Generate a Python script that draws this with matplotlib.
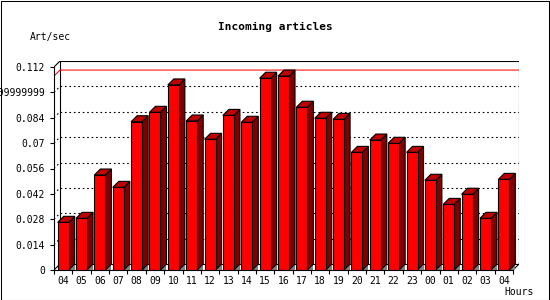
import matplotlib
matplotlib.use('Agg')
import matplotlib.pyplot as plt
from matplotlib.patches import Polygon, Rectangle

hours = ['04', '05', '06', '07', '08', '09', '10', '11', '12', '13', '14', '15',
         '16', '17', '18', '19', '20', '21', '22', '23', '00', '01', '02', '03', '04']
art_per_sec = [0.0263, 0.0285, 0.0524, 0.0456, 0.0818, 0.0870, 0.1021, 0.0822,
               0.0721, 0.0853, 0.0815, 0.1058, 0.1070, 0.0898, 0.0837, 0.0831,
               0.0649, 0.0717, 0.0699, 0.0649, 0.0495, 0.0362, 0.0418, 0.0285,
               0.0500]
ytick_vals = [0, 0.014, 0.028, 0.042, 0.056, 0.07, 0.084, 0.098, 0.112]
ytick_labels = ['0', '0.014', '0.028', '0.042', '0.056', '0.07', '0.084',
                '0.09999999', '0.112']

W, H = 550, 300
slot_px = 18.36          # one bar slot in pixels
ymax = ytick_vals[-1]
px_per_val = 203 / ymax  # pixels per unit value
depth_px = 6
dx = depth_px / slot_px
dy = depth_px / px_per_val
n = len(hours)
bar_w = 0.6

x0_px, y0_px = 54, 270
fig = plt.figure(figsize=(W / 100, H / 100), dpi=100)
fig.patch.set_facecolor('white')
ax = fig.add_axes([x0_px / W, (H - y0_px) / H,
                   (n * slot_px + depth_px) / W, (ymax * px_per_val + depth_px) / H])
ax.set_xlim(0, n + dx)
ax.set_ylim(0, ymax + dy)
ax.patch.set_alpha(0)

mono = 'DejaVu Sans Mono'

# back wall
ax.add_patch(Rectangle((dx, dy), n, ymax, fill=False, ec='black', lw=0.8, zorder=1))
ax.plot([0, dx], [ymax, ymax + dy], color='black', lw=0.8, zorder=1)
ax.plot([n, n + dx], [0, dy], color='black', lw=0.8, zorder=1)
ax.plot([0, dx], [0, dy], color='black', lw=0.8, zorder=1)

# dotted grid on back wall
for t in ytick_vals[1:-1]:
    ax.plot([dx, n + dx], [t + dy, t + dy], color='black', lw=0.8,
            linestyle=(0, (1.5, 2.5)), zorder=1)
    ax.plot([0, dx], [t, t + dy], color='black', lw=0.8,
            linestyle=(0, (1.5, 2.5)), zorder=1)

# max line
vmax = max(art_per_sec)
ax.plot([0, dx, n + dx], [vmax, vmax + dy, vmax + dy], color='#ff0000', lw=0.75,
        zorder=1.5)

# 3d bars
for i, v in enumerate(art_per_sec):
    xl = i + 0.5 - bar_w / 2
    xr = i + 0.5 + bar_w / 2
    ax.add_patch(Polygon([(xr, 0), (xr + dx, 0), (xr + dx, dy)], closed=True,
                         fc='#808080', ec='none', zorder=2))
    ax.add_patch(Polygon([(xr, 0), (xr, v), (xr + dx, v + dy), (xr + dx, dy)],
                         closed=True, fc='#800000', ec='black', lw=0.8, zorder=3))
    ax.add_patch(Polygon([(xl, v), (xr, v), (xr + dx, v + dy), (xl + dx, v + dy)],
                         closed=True, fc='#c00000', ec='black', lw=0.8, zorder=3))
ax.bar([i + 0.5 for i in range(n)], art_per_sec, width=bar_w, color='#ff0000',
       edgecolor='black', linewidth=0.8, zorder=4)

# axes
for s in ['top', 'right']:
    ax.spines[s].set_visible(False)
ax.spines['left'].set_bounds(0, ymax)
ax.spines['bottom'].set_bounds(0, n)
for s in ['left', 'bottom']:
    ax.spines[s].set_linewidth(0.8)
    ax.spines[s].set_zorder(5)

ax.set_yticks(ytick_vals)
ax.set_yticklabels(ytick_labels, fontfamily=mono, fontsize=7)
ax.tick_params(axis='y', length=3, width=0.8, pad=3.5)

ax.set_xticks(range(n + 1))
ax.set_xticklabels([])
ax.set_xticks([i + 0.5 for i in range(n)], minor=True)
ax.set_xticklabels(hours, minor=True, fontfamily=mono, fontsize=7)
ax.tick_params(axis='x', which='major', length=3, width=0.8)
ax.tick_params(axis='x', which='minor', length=0, pad=4)

fig.text(275 / W, 1 - 27 / H, 'Incoming articles', ha='center', va='center',
         fontfamily=mono, fontsize=8, fontweight='bold')
fig.text(30 / W, 1 - 37 / H, 'Art/sec', ha='left', va='center',
         fontfamily=mono, fontsize=7)
fig.text(504 / W, 1 - 292 / H, 'Hours', ha='left', va='center',
         fontfamily=mono, fontsize=7)

# image border
fig.add_artist(Rectangle((0.5 / W, 0.5 / H), 548 / W, 299 / H, transform=fig.transFigure,
                         fill=False, ec='black', lw=0.75))

plt.savefig('out.png', dpi=100)
